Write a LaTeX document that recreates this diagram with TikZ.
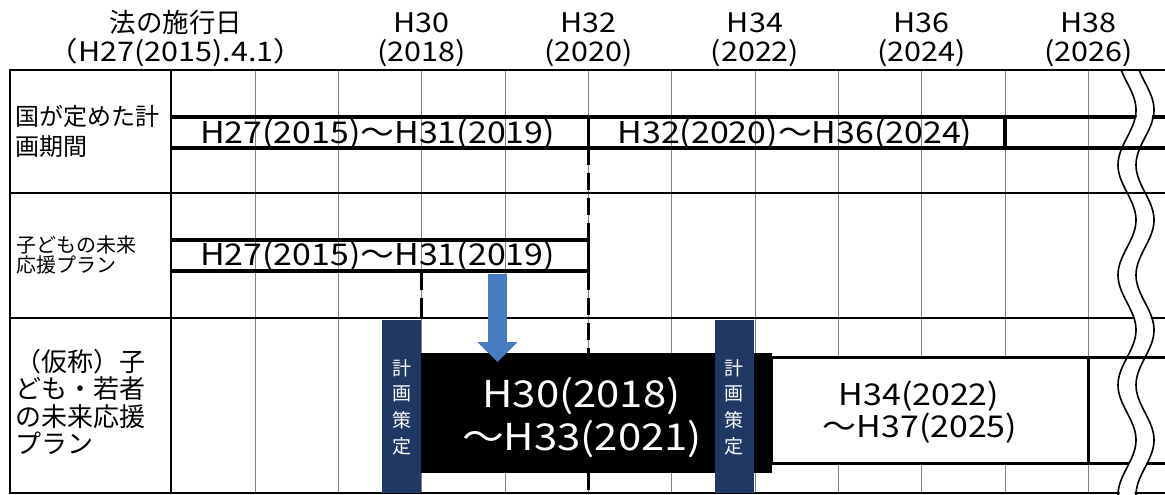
\documentclass[tikz,border=0pt]{standalone}
\usepackage{fontspec}
\setmainfont{Noto Sans CJK JP}
\newfontfamily\jpf{Noto Sans CJK JP}
\newfontfamily\latf[FakeStretch=1.13]{Noto Sans CJK JP}
\usetikzlibrary{arrows.meta}
\definecolor{navy}{RGB}{31,56,100}
\definecolor{arrowblue}{RGB}{72,124,192}
\definecolor{gridgray}{RGB}{130,130,130}
\begin{document}
\begin{tikzpicture}[x=1pt,y=-1pt,
  frame/.style={line width=2pt, black},
  gridline/.style={line width=1pt, gridgray},
  barline/.style={line width=3.5pt, black},
  dashline/.style={line width=3pt, black, dash pattern=on 17pt off 8pt},
  hdrtext/.style={font=\latf\fontsize{27}{27}\selectfont, inner sep=0pt, anchor=base},
  hdrjp/.style={font=\jpf\fontsize{26.5}{26.5}\selectfont, inner sep=0pt, anchor=base},
  period/.style={font=\latf\fontsize{30}{30}\selectfont, inner sep=0pt, anchor=base},
  bigperiod/.style={font=\latf\fontsize{37}{37}\selectfont, text=white, inner sep=0pt, anchor=base},
  rowlabel/.style={inner sep=0pt, anchor=base west},
  vchar/.style={font=\jpf\fontsize{19}{19}\selectfont, text=white, inner sep=0pt},
  stagebox/.style={fill=navy, draw=none, inner sep=0pt, minimum width=39pt, minimum height=173pt},
  wave/.style={line width=1.6pt, black},
]
\useasboundingbox (0,0) rectangle (1165,495);
\fill[white] (0,0) rectangle (1165,495);

% grid
\foreach \x in {255,338.3,421.7,505,588.3,671.7,755,838.3,921.7,1005,1088.3}
  \draw[gridline] (\x,70) -- (\x,493);

% frame and rows
\draw[frame] (10,70) -- (1165,70);
\draw[frame] (10,193) -- (1165,193);
\draw[frame] (10,318) -- (1165,318);
\draw[frame] (10,493) -- (1165,493);
\draw[frame] (10,69) -- (10,494);
\draw[frame] (171,70) -- (171,493);

% row 1 bars
\draw[barline] (171,117) -- (1165,117);
\draw[barline] (171,148) -- (1165,148);
\draw[barline] (588.3,117) -- (588.3,148);
\draw[barline] (1005,117) -- (1005,148);
% row 2 bar
\draw[barline] (171,240) -- (590,240);
\draw[barline] (171,271) -- (590,271);
\draw[barline] (588.3,240) -- (588.3,271);

% dashed lines
\draw[dashline] (588.3,148) -- (588.3,493);
\draw[dashline, dash pattern=on 19pt off 8pt] (421.7,271) -- (421.7,318);

% row 3 boxes
\node[draw=black, line width=3pt, fill=white, inner sep=0pt, minimum width=317pt, minimum height=106pt] (planC) at (929.5,410) {};
\draw[line width=3pt] (1088,357) -- (1165,357);
\draw[line width=3pt] (1088,463) -- (1165,463);
\node[fill=black, draw=none, inner sep=0pt, minimum width=352pt, minimum height=120pt] (planB) at (596,413) {};
\node[stagebox] (stage1) at (401.5,406.5) {};
\node[stagebox] (stage2) at (734,406.5) {};

% arrow
\coordinate (arrS) at (497.5,274);
\coordinate (arrE) at (497.5,362);
\draw[arrowblue, line width=19pt, -{Triangle[width=39pt,length=20pt]}] (arrS) -- (arrE);

% header texts
\node[hdrjp] (hA1) at (176,33) {法の施行日};
\node[hdrtext] (hA2) at (176,62) {（H27(2015).4.1）};
\node[hdrtext] (h30a) at (421.7,33) {H30};
\node[hdrtext] (h30b) at (421.7,62) {(2018)};
\node[hdrtext] (h32a) at (588.3,33) {H32};
\node[hdrtext] (h32b) at (588.3,62) {(2020)};
\node[hdrtext] (h34a) at (755,33) {H34};
\node[hdrtext] (h34b) at (755,62) {(2022)};
\node[hdrtext] (h36a) at (921.7,33) {H36};
\node[hdrtext] (h36b) at (921.7,62) {(2024)};
\node[hdrtext] (h38a) at (1088.3,33) {H38};
\node[hdrtext] (h38b) at (1088.3,62) {(2026)};

% row labels
\node[rowlabel, font=\jpf\fontsize{24}{24}\selectfont] (lab1a) at (15,125) {国が定めた計};
\node[rowlabel, font=\jpf\fontsize{24}{24}\selectfont] (lab1b) at (15,155) {画期間};
\node[rowlabel, font=\jpf\fontsize{20}{20}\selectfont] (lab2a) at (16,252.5) {子どもの未来};
\node[rowlabel, font=\jpf\fontsize{20}{20}\selectfont] (lab2b) at (16,272.5) {応援プラン};
\node[rowlabel, font=\jpf\fontsize{26}{26}\selectfont] (lab3a) at (15,371) {（仮称）子};
\node[rowlabel, font=\jpf\fontsize{26}{26}\selectfont] (lab3b) at (15,398.5) {ども・若者};
\node[rowlabel, font=\jpf\fontsize{26}{26}\selectfont] (lab3c) at (15,426) {の未来応援};
\node[rowlabel, font=\jpf\fontsize{26}{26}\selectfont] (lab3d) at (15,453.5) {プラン};

% period texts
\node[period] (p1) at (377.5,143) {H27(2015)～H31(2019)};
\node[period] (p2) at (795,143) {H32(2020)～H36(2024)};
\node[period] (p3) at (377.5,265) {H27(2015)～H31(2019)};
\node[bigperiod] (p4a) at (581.5,407) {H30(2018)};
\node[bigperiod] (p4b) at (582,450) {～H33(2021)};
\node[period] (p5a) at (919,405) {H34(2022)};
\node[period] (p5b) at (920,437) {～H37(2025)};

% vertical chars
\foreach \c/\y [count=\i] in {計/368,画/393.5,策/420,定/446.5} {
  \node[vchar] (va\i) at (401.5,\y) {\c};
  \node[vchar] (vb\i) at (734,\y) {\c};
}

% break band
\draw[white, line width=15pt] plot[domain=70:495, samples=90, smooth, variable=\t] ({1136+9*sin((\t-82.5)*3.2727)},\t);
\draw[frame] (1100,70) -- (1165,70);
\draw[frame] (1100,193) -- (1165,193);
\draw[barline] (1100,148) -- (1165,148);
\draw[line width=3pt] (1100,357) -- (1165,357);
\draw[wave] plot[domain=70:495, samples=90, smooth, variable=\t] ({1127+9*sin((\t-82.5)*3.2727)},\t);
\draw[wave] plot[domain=70:495, samples=90, smooth, variable=\t] ({1145+9*sin((\t-82.5)*3.2727)},\t);
\end{tikzpicture}
\end{document}
